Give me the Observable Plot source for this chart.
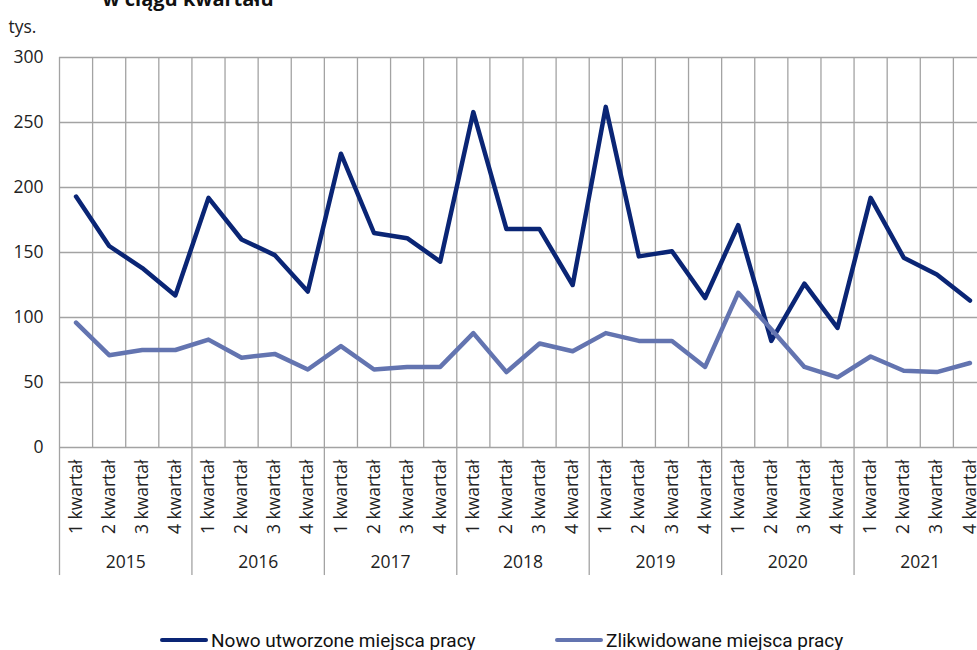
<!DOCTYPE html>
<html>
<head>
<meta charset="utf-8">
<script src="https://cdn.jsdelivr.net/npm/d3@7"></script>
<script src="https://cdn.jsdelivr.net/npm/@observablehq/plot@0.6"></script>
<style>
  html, body { margin: 0; padding: 0; background: #fff; overflow: hidden; }
  #wrap { position: relative; width: 977px; height: 650px; }
  #legend { position: absolute; left: 0; top: 626px; width: 977px; height: 28px;
    font-family: "Roboto", "Noto Sans", sans-serif;
    font-size: 19px; color: #111; }
  .item { position: absolute; top: 0; display: flex; align-items: center; height: 28px; }
  .sw { display: inline-block; width: 48px; height: 4px; border-radius: 2px; margin-right: 3px; }
</style>
</head>
<body>
<div id="wrap">
  <div id="chart"></div>
  <div id="legend"></div>
</div>
<script>
const years = [2015, 2016, 2017, 2018, 2019, 2020, 2021];
const quarterLabels = ["1 kwartał", "2 kwartał", "3 kwartał", "4 kwartał"];
const yTicks = [0, 50, 100, 150, 200, 250, 300];
const seriesNames = ["Nowo utworzone miejsca pracy", "Zlikwidowane miejsca pracy"];
const seriesColors = ["#0a2575", "#6374b0"];
const nowo = [193, 155, 138, 117, 192, 160, 148, 120, 226, 165, 161, 143, 258, 168, 168, 125, 262, 147, 151, 115, 171, 82, 126, 92, 192, 146, 133, 113];
const zlik = [96, 71, 75, 75, 83, 69, 72, 60, 78, 60, 62, 62, 88, 58, 80, 74, 88, 82, 82, 62, 119, 91, 62, 54, 70, 59, 58, 65];

const n = years.length * quarterLabels.length;
const rows = [];
years.forEach((yr, yi) => quarterLabels.forEach((q, qi) => rows.push({i: yi * 4 + qi, year: yr, q})));
const dNowo = nowo.map((v, i) => ({i, v}));
const dZlik = zlik.map((v, i) => ({i, v}));
const gridX = d3.range(0, n + 1);
const yearSep = d3.range(0, n + 1, 4);
const yearRows = years.map((yr, yi) => ({yr, c: yi * 4 + 2}));

const grid = "#a3a3a3";
const fs = 17.5;
const chart = Plot.plot({
  width: 977,
  height: 620,
  marginTop: 0, marginLeft: 0, marginRight: 0, marginBottom: 0,
  x: {type: "linear", domain: [0, n], range: [59, 986], axis: null},
  y: {type: "linear", domain: [0, 300], range: [447, 57], axis: null},
  style: {fontFamily: "'Open Sans', 'Noto Sans', sans-serif", fontSize: fs + "px", color: "#222", background: "#fff"},
  marks: [
    Plot.ruleY(yTicks, {x1: 0, x2: n, y: d => d, stroke: grid, strokeWidth: 1.3}),
    Plot.ruleX(gridX, {x: d => d, y1: 0, y2: 300, stroke: grid, strokeWidth: 1.3}),
    Plot.ruleX(yearSep, {x: d => d, y1: 0, y2: -98.5, stroke: grid, strokeWidth: 1.3}),
    Plot.text(yTicks, {x: 0, y: d => d, text: d => String(d), textAnchor: "end", dx: -16, fill: "#222", fontSize: fs}),
    Plot.text(rows, {x: d => d.i + 0.5, y: 0, text: d => d.q, rotate: -90, textAnchor: "end", dy: 12, fill: "#222", fontSize: fs}),
    Plot.text(yearRows, {x: d => d.c, y: 0, text: d => String(d.yr), dy: 115, fill: "#222", fontSize: fs}),
    Plot.text(["tys."], {frameAnchor: "top-left", text: d => d, dx: 8, dy: 20, textAnchor: "start", fill: "#222", fontSize: fs}),
    Plot.text(["w ciągu kwartału"], {frameAnchor: "top-left", text: d => d, dx: 102, dy: -9, textAnchor: "start", fill: "#111", fontSize: 20, fontWeight: "bold"}),
    Plot.line(dNowo, {x: d => d.i + 0.5, y: "v", stroke: seriesColors[0], strokeWidth: 4.5, strokeLinejoin: "round", strokeLinecap: "round"}),
    Plot.line(dZlik, {x: d => d.i + 0.5, y: "v", stroke: seriesColors[1], strokeWidth: 4.5, strokeLinejoin: "round", strokeLinecap: "round"})
  ]
});
document.getElementById("chart").appendChild(chart);

const legend = document.getElementById("legend");
const lefts = [160, 555];
seriesNames.forEach((name, k) => {
  const it = document.createElement("div");
  it.className = "item";
  it.style.left = lefts[k] + "px";
  it.innerHTML = `<span class="sw" style="background:${seriesColors[k]}"></span><span>${name}</span>`;
  legend.appendChild(it);
});
</script>
</body>
</html>
